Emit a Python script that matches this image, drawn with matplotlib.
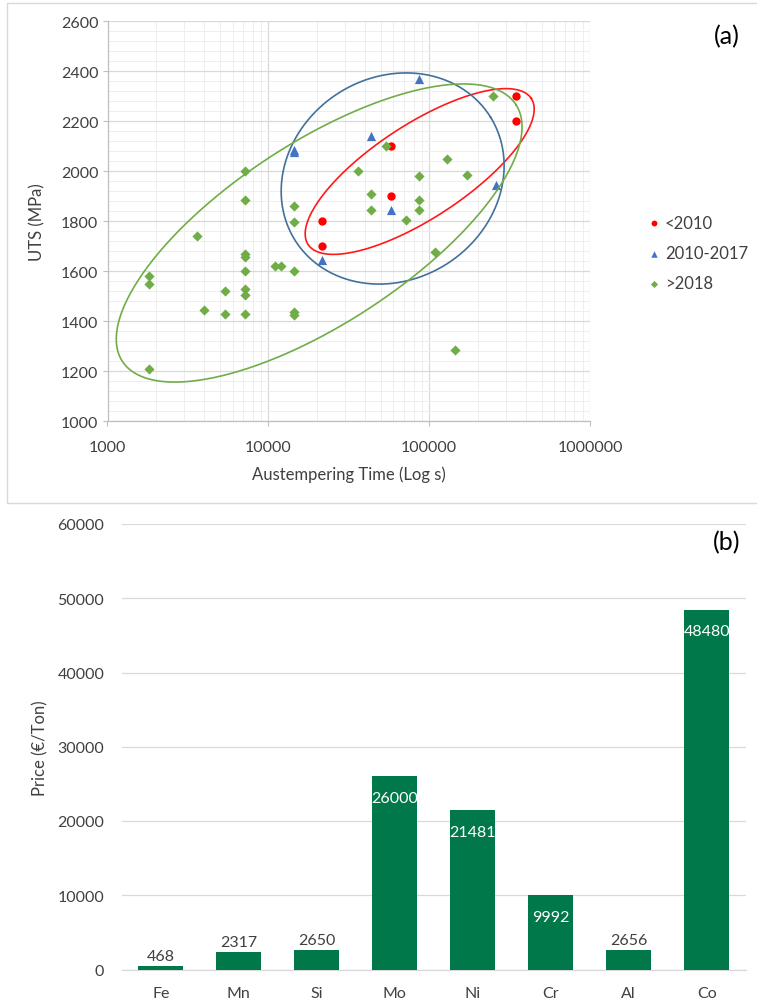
import numpy as np
import matplotlib
matplotlib.use("Agg")
import matplotlib.pyplot as plt
from matplotlib.patches import Rectangle
from matplotlib.ticker import MultipleLocator, LogLocator, NullFormatter, FixedLocator

plt.rcParams["font.family"] = ["Lato", "DejaVu Sans"]

# ---- (a) UTS vs austempering time ----
t_lt2010 = [21600, 21600, 57600, 57600, 345600, 345600]
uts_lt2010 = [1800, 1700, 2100, 1900, 2300, 2200]

t_2010_2017 = [14400, 14400, 21600, 43200, 57600, 86400, 259200]
uts_2010_2017 = [2085, 2075, 1645, 2140, 1845, 2370, 1945]

t_gt2018 = [1800, 1800, 1800, 3600, 4000, 5400, 5400,
            7200, 7200, 7200, 7200, 7200, 7200, 7200, 7200,
            11000, 12000, 14400, 14400, 14400, 14400, 14400,
            36000, 43200, 43200, 54000, 72000, 86400, 86400, 86400,
            108000, 129600, 144000, 172800, 250000]
uts_gt2018 = [1580, 1550, 1210, 1740, 1445, 1520, 1430,
              2000, 1885, 1670, 1655, 1600, 1530, 1505, 1430,
              1620, 1620, 1860, 1795, 1600, 1435, 1425,
              2000, 1910, 1845, 2100, 1805, 1980, 1885, 1845,
              1675, 2050, 1285, 1985, 2300]

series_labels = ["<2010", "2010-2017", ">2018"]

# hand-drawn group outlines: centre (log10 s, MPa) + two conjugate half-axes
ring_lt2010 = [4.941, 1998, 0.694, 292, -0.159, 157]
ring_2010_2017 = [4.773, 1970, 0.609, 245, -0.331, 344]
ring_gt2018 = [4.316, 1752, 1.224, 513, -0.305, 304]

# ---- (b) element prices ----
elements = ["Fe", "Mn", "Si", "Mo", "Ni", "Cr", "Al", "Co"]
price = [468, 2317, 2650, 26000, 21481, 9992, 2656, 48480]

RED, BLUE, GREEN = "#FF0000", "#4472C4", "#70AD47"
BAR = "#00784A"
GRID = "#D9D9D9"
TXT = "#404040"
FS = 11.5

fig = plt.figure(figsize=(7.57, 10.03), dpi=100)
W, H = 757, 1003


def ring(ax, p, color):
    th = np.linspace(0, 2 * np.pi, 400)
    lx = p[0] + p[2] * np.cos(th) + p[4] * np.sin(th)
    y = p[1] + p[3] * np.cos(th) + p[5] * np.sin(th)
    ax.plot(10 ** lx, y, color=color, lw=1.2, zorder=5)


# frame around panel (a)
fig.add_artist(Rectangle((6.5 / W, 1 - 504 / H), 1.0, 500 / H,
                         transform=fig.transFigure, fill=False,
                         edgecolor=GRID, lw=1.0))

ax1 = fig.add_axes([107.5 / W, 1 - 422 / H, 482.5 / W, 400 / H])
ax1.scatter(t_lt2010, uts_lt2010, marker="o", s=36, color=RED,
            label=series_labels[0], zorder=3, linewidths=0)
ax1.scatter(t_2010_2017, uts_2010_2017, marker="^", s=44, color=BLUE,
            label=series_labels[1], zorder=3, linewidths=0)
ax1.scatter(t_gt2018, uts_gt2018, marker="D", s=27, color=GREEN,
            label=series_labels[2], zorder=3, linewidths=0)
ring(ax1, ring_lt2010, "#FF1A1A")
ring(ax1, ring_2010_2017, "#41719C")
ring(ax1, ring_gt2018, GREEN)

ax1.set_xscale("log")
ax1.set_xlim(1000, 1e6)
ax1.set_ylim(1000, 2600)
ax1.xaxis.set_major_locator(FixedLocator([1e3, 1e4, 1e5, 1e6]))
ax1.xaxis.set_minor_locator(LogLocator(base=10, subs=np.arange(2, 10)))
ax1.xaxis.set_minor_formatter(NullFormatter())
ax1.set_xticklabels(["1000", "10000", "100000", "1000000"])
ax1.yaxis.set_major_locator(MultipleLocator(200))
ax1.yaxis.set_minor_locator(MultipleLocator(40))
ax1.grid(which="major", color=GRID, lw=0.9)
ax1.grid(which="minor", color="#EEEEEE", lw=0.7)
ax1.set_axisbelow(True)
for s in ("top", "right"):
    ax1.spines[s].set_visible(False)
for s in ("left", "bottom"):
    ax1.spines[s].set_color("#BFBFBF")
    ax1.spines[s].set_linewidth(0.9)
ax1.tick_params(which="major", length=3.6, color="#BFBFBF",
                labelsize=FS, labelcolor=TXT)
ax1.tick_params(axis="x", which="major", pad=10)
ax1.tick_params(axis="y", which="major", pad=3)
ax1.tick_params(which="minor", length=0)
ax1.set_xlabel("Austempering Time (Log s)", fontsize=FS + 0.5, color=TXT)
ax1.set_ylabel("UTS (MPa)", fontsize=FS + 0.5, color=TXT)
ax1.xaxis.set_label_coords(0.5, -0.11)
ax1.yaxis.set_label_coords(-0.128, 0.5)
fig.text(727 / W, 1 - 37 / H, "(a)", fontsize=18, ha="center", va="center",
         color="#000000")
ax1.legend(loc="center left", bbox_to_anchor=(649 / W, 1 - 254 / H),
           bbox_transform=fig.transFigure, frameon=False, fontsize=FS + 0.5,
           handlelength=0.6, handletextpad=0.35, labelspacing=0.85,
           borderpad=0, borderaxespad=0, markerscale=0.7, labelcolor=TXT)

# ---- (b) ----
ax2 = fig.add_axes([121.7 / W, 1 - 970.5 / H, 624 / W, 445.5 / H])
xpos = np.arange(len(elements))
bars = ax2.bar(xpos, price, width=0.573, color=BAR, zorder=3)
ax2.set_xlim(-0.5, len(elements) - 0.5)
ax2.set_ylim(0, 60000)
ax2.yaxis.set_major_locator(MultipleLocator(10000))
ax2.set_xticks(xpos)
ax2.set_xticklabels(elements)
ax2.grid(axis="y", color=GRID, lw=0.9)
ax2.set_axisbelow(True)
for s in ("top", "right", "left"):
    ax2.spines[s].set_visible(False)
ax2.spines["bottom"].set_color(GRID)
ax2.spines["bottom"].set_linewidth(0.9)
ax2.tick_params(length=0, labelsize=FS, labelcolor=TXT)
ax2.tick_params(axis="x", pad=12)
ax2.tick_params(axis="y", pad=12.5)
ax2.set_ylabel("Price (€/Ton)", fontsize=FS + 0.5, color=TXT)
ax2.yaxis.set_label_coords(-0.118, 0.5)

for x, v in zip(xpos, price):
    if v > 5000:
        ax2.annotate(f"{v}", (x, v), xytext=(0, -18.5), textcoords="offset points",
                     ha="center", va="baseline", color="white", fontsize=FS)
    else:
        ax2.annotate(f"{v}", (x, v), xytext=(0, 4.5), textcoords="offset points",
                     ha="center", va="baseline", color=TXT, fontsize=FS)

fig.text(727 / W, 1 - 543 / H, "(b)", fontsize=18, ha="center", va="center",
         color="#000000")

fig.savefig("out.png", dpi=100)
